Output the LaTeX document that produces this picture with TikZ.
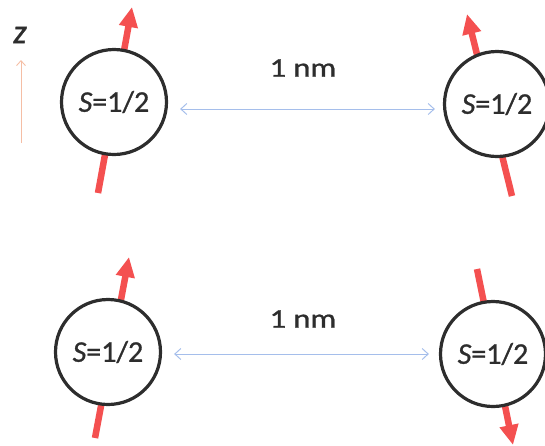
\documentclass[tikz,border=0pt]{standalone}
\usepackage{fontspec}
\setmainfont{Carlito}
\newfontfamily\heavyfont[FakeBold=0.9,ItalicFeatures={FakeBold=0.9}]{Carlito}
\usetikzlibrary{arrows.meta}
\definecolor{spinred}{RGB}{244,80,80}
\definecolor{ringgray}{RGB}{45,45,45}
\definecolor{distblue}{RGB}{165,190,235}
\definecolor{axisorange}{RGB}{245,190,165}
\begin{document}
\begin{tikzpicture}[x=1pt,y=-1pt,
  spin/.style={circle,draw=ringgray,line width=3.2pt,fill=white,minimum size=105pt,inner sep=0pt,
    font=\heavyfont\fontsize{30}{34}\selectfont,text=ringgray},
  spinarrow/.style={draw=spinred,line width=6.5pt,-{Triangle[length=20pt,width=18pt]}},
  distarrow/.style={draw=distblue,line width=1pt,{Straight Barb[length=6pt,width=11pt]}-{Straight Barb[length=6pt,width=11pt]}},
  lbl/.style={font=\heavyfont\fontsize{27}{30}\selectfont,text=ringgray,xscale=1.2}]
\useasboundingbox (0,0) rectangle (545,445);
% axis
\node[font=\heavyfont\fontsize{34}{36}\selectfont\itshape,text=ringgray] (zl) at (20,35) {z};
\coordinate (zb) at (21,143);
\coordinate (zt) at (21,60);
\draw[axisorange,line width=0.9pt,-{Straight Barb[length=5pt,width=9pt]}] (zb) -- (zt);
% spin arrow ends
\coordinate (a1) at (98,193);
\coordinate (a2) at (132,7);
\coordinate (b1) at (512,196);
\coordinate (b2) at (467,14);
\coordinate (c1) at (95,438);
\coordinate (c2) at (129,257);
\coordinate (d1) at (477,269);
\coordinate (d2) at (513,445);
\draw[spinarrow] (a1) -- (a2);
\draw[spinarrow] (b1) -- (b2);
\draw[spinarrow] (c1) -- (c2);
\draw[spinarrow] (d1) -- (d2);
% spins
\node[spin] (A) at (114,102) {\textit{S}=1/2};
\node[spin] (B) at (497,104) {\textit{S}=1/2};
\node[spin] (C) at (108,352) {\textit{S}=1/2};
\node[spin] (D) at (493,354) {\textit{S}=1/2};
% distances
\draw[distarrow,shorten <=12pt,shorten >=8pt] (A.east |- 0,109) -- (B.west |- 0,109);
\draw[distarrow,shorten <=12pt,shorten >=10pt] (C.east |- 0,354) -- (D.west |- 0,354);
\node[lbl] (t1) at (303,68) {1 nm};
\node[lbl] (t2) at (303,319) {1 nm};
\end{tikzpicture}
\end{document}
